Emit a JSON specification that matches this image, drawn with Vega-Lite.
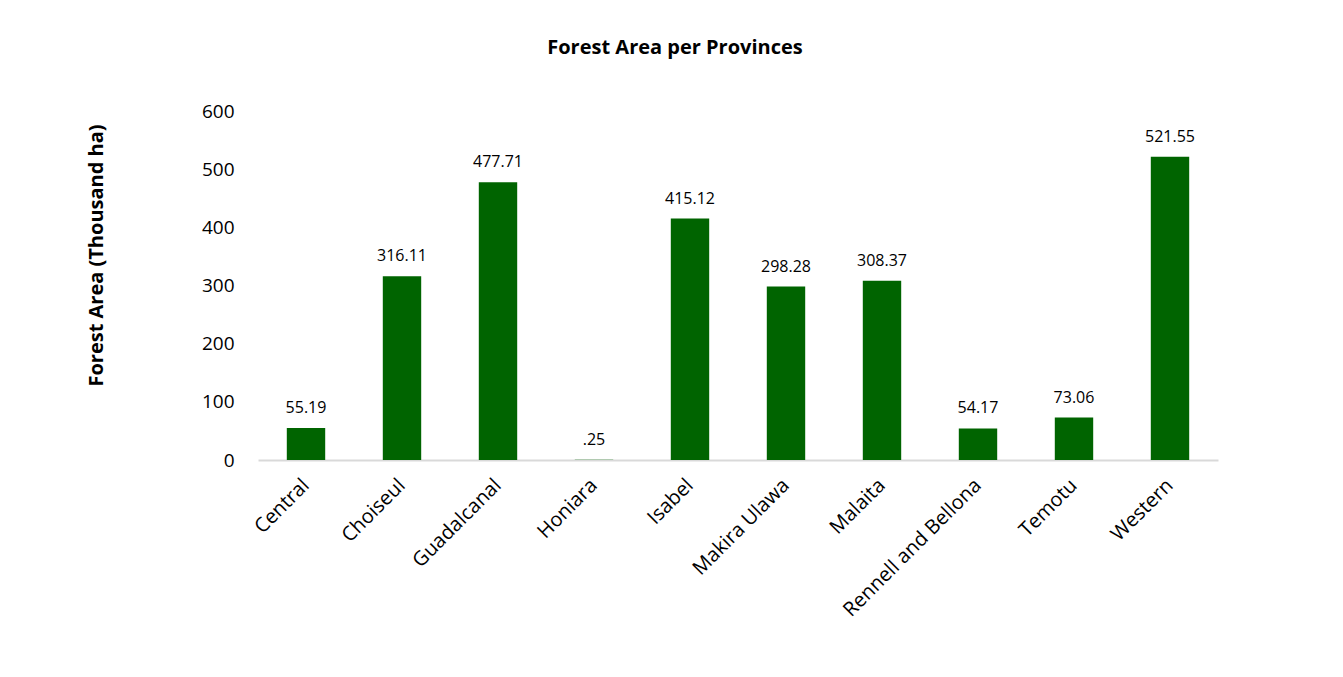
{
  "$schema": "https://vega.github.io/schema/vega-lite/v6.json",
  "autosize": {"type": "none"},
  "width": 960,
  "height": 349,
  "padding": {"left": 258, "top": 111, "right": 125, "bottom": 217},
  "background": "white",
  "config": {"view": {"stroke": null}, "font": "Open Sans"},
  "title": {"text": "Forest Area per Provinces", "fontSize": 20, "fontWeight": "bold", "font": "Open Sans", "color": "#000000", "anchor": "middle", "dx": -63, "offset": 44},
  "data": {"values": [
    {"province": "Central", "area": 55.19, "label": "55.19"},
    {"province": "Choiseul", "area": 316.11, "label": "316.11"},
    {"province": "Guadalcanal", "area": 477.71, "label": "477.71"},
    {"province": "Honiara", "area": 0.25, "label": ".25"},
    {"province": "Isabel", "area": 415.12, "label": "415.12"},
    {"province": "Makira Ulawa", "area": 298.28, "label": "298.28"},
    {"province": "Malaita", "area": 308.37, "label": "308.37"},
    {"province": "Rennell and Bellona", "area": 54.17, "label": "54.17"},
    {"province": "Temotu", "area": 73.06, "label": "73.06"},
    {"province": "Western", "area": 521.55, "label": "521.55"}
  ]},
  "encoding": {
    "x": {"field": "province", "type": "nominal", "sort": null,
      "scale": {"paddingInner": 0.6, "paddingOuter": 0.3},
      "axis": {"title": null, "labelAngle": -45, "labelAlign": "right", "labelBaseline": "middle", "labelFontSize": 20, "labelColor": "#000000", "labelPadding": 22, "labelLimit": 0, "ticks": false, "domainColor": "#d9d9d9", "domainWidth": 2, "labelFont": "Open Sans", "labelOverlap": false}},
    "y": {"field": "area", "type": "quantitative",
      "scale": {"domain": [0, 600]},
      "axis": {"title": "Forest Area (Thousand ha)", "titleFontSize": 20, "titleFontWeight": "bold", "titleColor": "#000000", "titlePadding": 95, "titleY": 144, "labelFontSize": 19, "labelColor": "#000000", "labelPadding": 24, "values": [0, 100, 200, 300, 400, 500, 600], "labelOverlap": false, "ticks": false, "domain": false, "grid": false, "labelFont": "Open Sans", "titleFont": "Open Sans"}}
  },
  "layer": [
    {"mark": {"type": "bar", "color": "#006400"}},
    {"mark": {"type": "text", "baseline": "bottom", "dy": -12, "fontSize": 16, "color": "#000000", "font": "Open Sans"},
      "encoding": {"text": {"field": "label"}}}
  ]
}
